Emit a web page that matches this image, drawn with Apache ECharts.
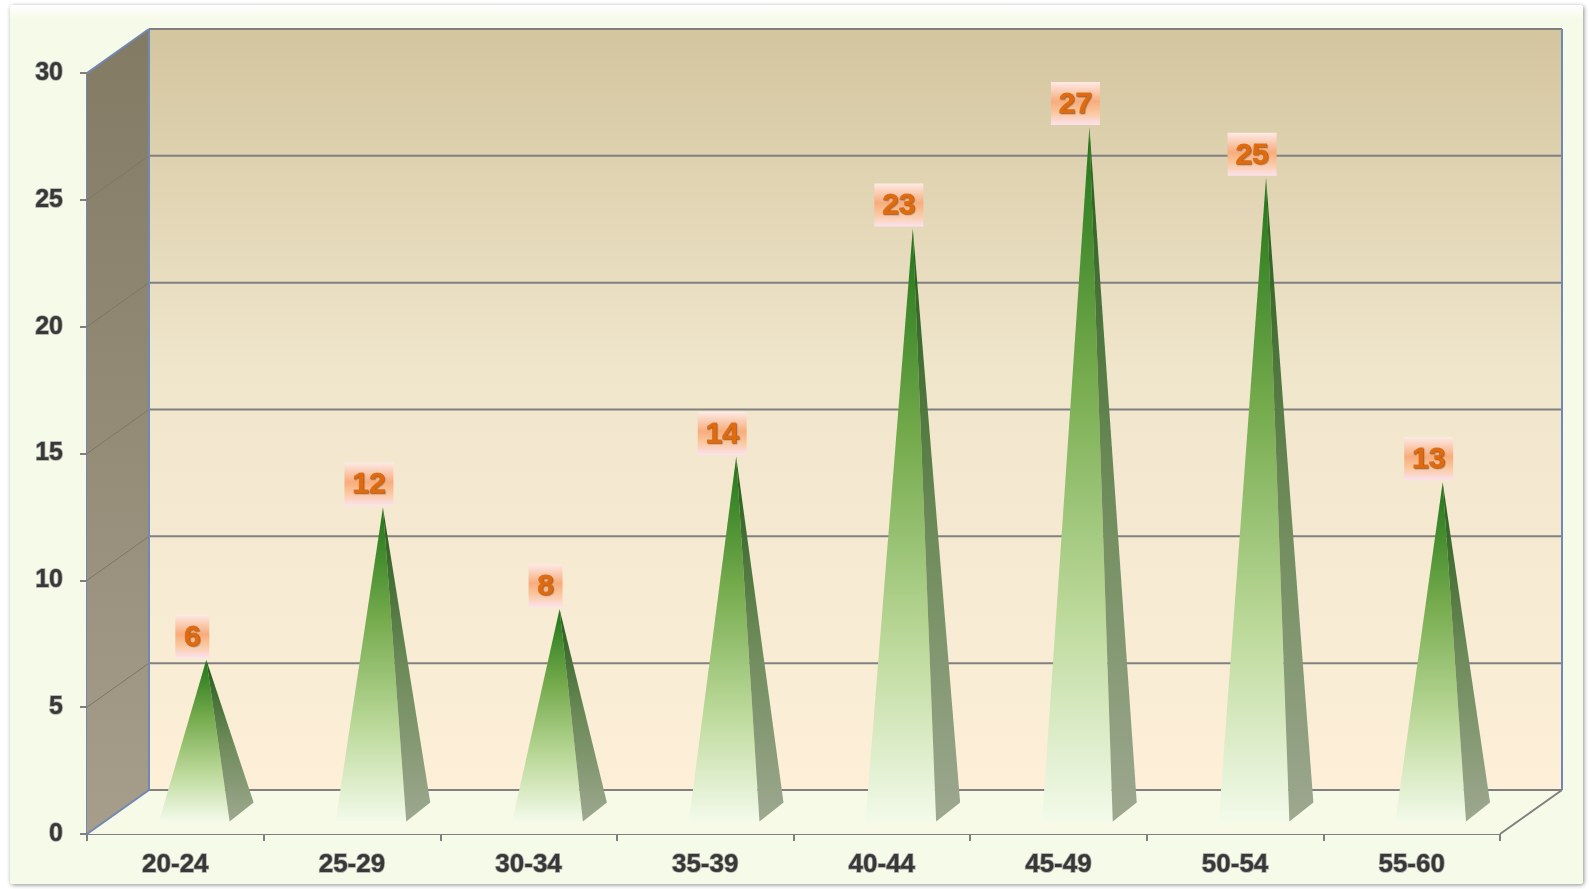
<!DOCTYPE html>
<html>
<head>
<meta charset="utf-8">
<script src="https://cdn.jsdelivr.net/npm/echarts@6/dist/echarts.min.js"></script>
<style>
html,body{margin:0;padding:0;background:#fff;}
#frame{position:absolute;left:10px;top:5px;width:1573px;height:879px;background:linear-gradient(#ffffff 0px,#f6fae8 14px,#f6fae8 100%);box-shadow:1px 1px 4px rgba(0,0,0,0.45);border-radius:3px;}
#main{position:absolute;left:0;top:0;width:1589px;height:889px;}
</style>
</head>
<body>
<div id="frame"></div>
<div id="main"></div>
<script>
// 年龄段 / 人数
var categories = ['20-24', '25-29', '30-34', '35-39', '40-44', '45-49', '50-54', '55-60'];
var values = [6, 12, 8, 14, 23, 27, 25, 13];
var yTicks = [0, 5, 10, 15, 20, 25, 30];

// 3D 效果的景深偏移（像素）
var DX = 62, DY = -44;
var MX = 31, MY = -22;
var FONT = '"Liberation Sans", Arial, sans-serif';
var BLUE = '#7088b3', GREY = '#808080';

var myChart = echarts.init(document.getElementById('main'));

function lg(stops) {
    return new echarts.graphic.LinearGradient(0, 0, 0, 1, stops);
}

/* 背景墙、侧墙、地板和网格线 */
function renderWalls(params, api) {
    var n = categories.length;
    var maxV = yTicks[yTicks.length - 1];
    var half = api.size([1, 0])[0] / 2;
    var x0 = api.coord([0, 0])[0] - half;
    var x1 = api.coord([n - 1, 0])[0] + half;
    var yBot = api.coord([0, 0])[1];
    var yTop = api.coord([0, maxV])[1];
    var children = [];
    children.push({
        type: 'polygon',
        shape: {points: [[x0, yTop], [x0 + DX, yTop + DY], [x0 + DX, yBot + DY], [x0, yBot]]},
        style: {fill: lg([{offset: 0, color: '#837a64'}, {offset: 1, color: '#a69d8b'}])}
    });
    children.push({
        type: 'polygon',
        shape: {points: [[x0 + DX, yTop + DY], [x1 + DX, yTop + DY], [x1 + DX, yBot + DY], [x0 + DX, yBot + DY]]},
        style: {fill: lg([{offset: 0, color: '#d3c59e'}, {offset: 0.45, color: '#f0e6cc'}, {offset: 1, color: '#fdefd8'}])}
    });
    children.push({
        type: 'polygon',
        shape: {points: [[x0, yBot], [x0 + DX, yBot + DY], [x1 + DX, yBot + DY], [x1, yBot]]},
        style: {fill: '#f6fae7'}
    });
    for (var k = 0; k < yTicks.length; k++) {
        var y = api.coord([0, yTicks[k]])[1];
        children.push({
            type: 'line',
            shape: {x1: x0 + DX, y1: y + DY, x2: x1 + DX, y2: y + DY},
            style: {stroke: GREY, lineWidth: 2}
        });
        if (k > 0 && k < yTicks.length - 1) {
            children.push({
                type: 'line',
                shape: {x1: x0, y1: y, x2: x0 + DX, y2: y + DY},
                style: {stroke: '#7d7668', lineWidth: 1}
            });
        }
    }
    children.push({type: 'line', shape: {x1: x0, y1: yTop, x2: x0 + DX, y2: yTop + DY}, style: {stroke: BLUE, lineWidth: 2}});
    children.push({type: 'line', shape: {x1: x0, y1: yBot, x2: x0 + DX, y2: yBot + DY}, style: {stroke: BLUE, lineWidth: 2}});
    children.push({type: 'line', shape: {x1: x0 + DX, y1: yTop + DY, x2: x0 + DX, y2: yBot + DY}, style: {stroke: BLUE, lineWidth: 2}});
    children.push({type: 'line', shape: {x1: x1 + DX, y1: yTop + DY, x2: x1 + DX, y2: yBot + DY}, style: {stroke: BLUE, lineWidth: 2}});
    children.push({type: 'line', shape: {x1: x1, y1: yBot, x2: x1 + DX, y2: yBot + DY}, style: {stroke: GREY, lineWidth: 2}});
    return {type: 'group', children: children};
}

/* 金字塔 + 数据标签 */
function renderPyramid(params, api) {
    var i = api.value(0), v = api.value(1);
    var base = api.coord([i, 0]), top = api.coord([i, v]);
    var cx = base[0] + MX, cy = base[1] + MY;
    var ax = top[0] + MX, ay = top[1] + MY;
    var hw = api.size([1, 0])[0] * 0.2;
    var fl = [cx - hw - 12, cy + 9.5], fr = [cx + hw - 12, cy + 9.5], br = [cx + hw + 12, cy - 9.5];
    var txt = String(v);
    var w = 19 + 15 * txt.length, h = 43;
    var lx = ax - 14;
    return {
        type: 'group',
        children: [{
            type: 'polygon',
            shape: {points: [fl, fr, [ax, ay]]},
            style: {fill: lg([{offset: 0, color: '#1f7518'}, {offset: 0.35, color: '#74aa4c'}, {offset: 0.7, color: '#bcd99a'}, {offset: 1, color: '#f3faea'}])}
        }, {
            type: 'polygon',
            shape: {points: [fr, br, [ax, ay]]},
            style: {fill: lg([{offset: 0, color: '#245a18'}, {offset: 0.5, color: '#6c8a58'}, {offset: 1, color: '#9ea890'}])}
        }, {
            type: 'rect',
            shape: {x: lx - w / 2, y: ay - 2 - h, width: w, height: h},
            style: {fill: lg([{offset: 0, color: '#fdeae6'}, {offset: 0.45, color: '#f8ac7b'}, {offset: 0.72, color: '#fbc8a0'}, {offset: 1, color: '#fce2ee'}])}
        }, {
            type: 'text',
            style: {
                text: txt, x: lx, y: ay - 2 - h / 2 + 1,
                align: 'center', verticalAlign: 'middle',
                fontFamily: FONT, fontSize: 30, fontWeight: 'bold',
                fill: '#e06a0c',
                stroke: 'rgba(170,80,10,0.6)', lineWidth: 0.8,
                textShadowColor: 'rgba(110,50,0,0.45)', textShadowBlur: 1, textShadowOffsetX: 1, textShadowOffsetY: 1
            }
        }]
    };
}

option = {
    animation: false,
    grid: {left: 87, right: 89, top: 73, bottom: 55},
    xAxis: {
        type: 'category',
        data: categories,
        boundaryGap: true,
        axisLine: {show: true, lineStyle: {color: GREY, width: 2}},
        axisTick: {show: true, length: 7, lineStyle: {color: GREY, width: 2}},
        axisLabel: {
            margin: 18, color: '#383838', fontFamily: FONT, fontSize: 26, fontWeight: 'bold',
            textBorderColor: 'rgba(150,150,150,0.85)', textBorderWidth: 1.5
        },
        splitLine: {show: false}
    },
    yAxis: {
        type: 'value',
        min: 0,
        max: yTicks[yTicks.length - 1],
        interval: 5,
        axisLine: {show: true, lineStyle: {color: BLUE, width: 2}},
        axisTick: {show: true, length: 7, lineStyle: {color: GREY, width: 2}},
        axisLabel: {
            margin: 24, color: '#383838', fontFamily: FONT, fontSize: 25, fontWeight: 'bold',
            textBorderColor: 'rgba(150,150,150,0.85)', textBorderWidth: 1.5
        },
        splitLine: {show: false}
    },
    series: [{
        type: 'custom',
        z: 1,
        data: [[0, 0]],
        renderItem: renderWalls,
        silent: true
    }, {
        type: 'custom',
        z: 3,
        data: values.map(function (v, i) { return [i, v]; }),
        encode: {x: 0, y: 1},
        renderItem: renderPyramid
    }]
};
myChart.setOption(option);
window.onresize = myChart.resize;
</script>
</body>
</html>
